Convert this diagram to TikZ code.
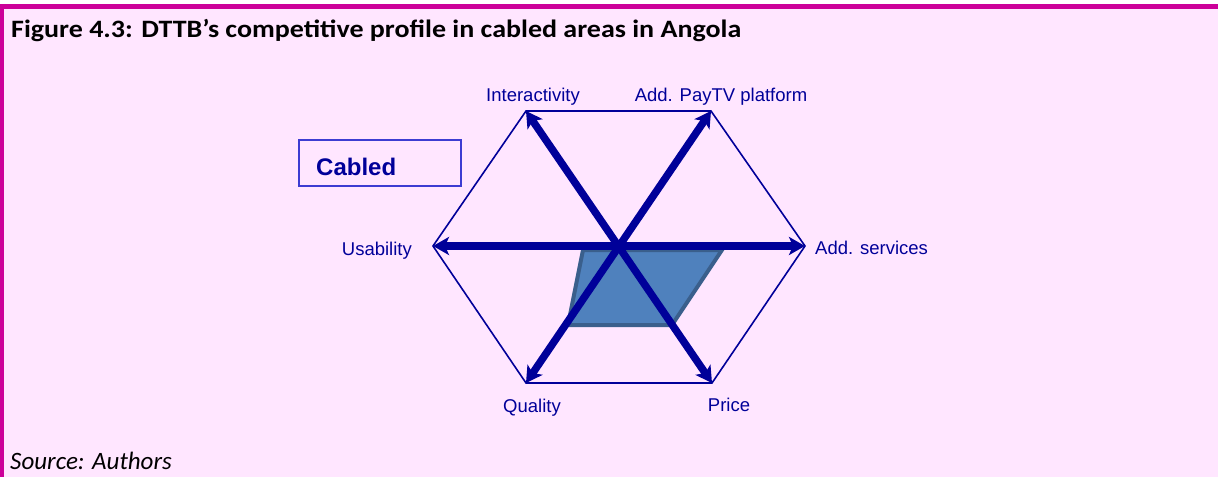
\documentclass[tikz,border=0pt]{standalone}
\usepackage{fontspec}
\setmainfont{Liberation Sans}
\newfontfamily\calibri{Carlito}
\newfontfamily\calibriwide[FakeStretch=1.12]{Carlito}
\usetikzlibrary{positioning,arrows.meta}
\definecolor{pagepink}{RGB}{255,230,255}
\definecolor{framemag}{RGB}{204,0,153}
\definecolor{axisblue}{RGB}{0,0,153}
\definecolor{boxblue}{RGB}{60,60,210}
\definecolor{areafill}{RGB}{79,129,189}
\definecolor{areaedge}{RGB}{58,95,140}

\begin{document}
\begin{tikzpicture}[x=1pt,y=-1pt,
  lbl/.style={text=axisblue,font=\fontsize{18.5}{22}\selectfont,inner sep=0pt},
  spoke/.style={{Stealth[length=16pt,width=18pt,inset=4pt]}-{Stealth[length=16pt,width=18pt,inset=4pt]},axisblue,line width=7.5pt},
  rim/.style={axisblue,line width=1.6pt,line join=miter}]
\useasboundingbox (0,0) rectangle (1218,477);
% page and frame
\fill[white] (0,0) rectangle (1218,477);
\fill[pagepink] (0,4) rectangle (1218,477);
\fill[framemag] (0,4) rectangle (1218,9);
\fill[framemag] (0,4) rectangle (4,477);
\node[anchor=base west,inner sep=0pt,font=\calibriwide\bfseries\fontsize{25}{29}\selectfont] (title) at (11,37) {Figure 4.3: DTTB’s competitive profile in cabled areas in Angola};
\node[anchor=base west,inner sep=0pt,font=\calibri\itshape\fontsize{25}{29}\selectfont] (source) at (10,469) {Source: Authors};

% hexagon corners
\coordinate (c) at (619,246);
\coordinate (u) at (433,246);
\coordinate (s) at (805,246);
\coordinate (i) at (526,111);
\coordinate (p) at (711,111);
\coordinate (q) at (526,383);
\coordinate (r) at (712,383);

% profile area
\filldraw[fill=areafill,draw=areaedge,line width=4pt,line join=miter]
  (583,250) -- (722,250) -- (672,325) -- (568,325) -- cycle;

\draw[rim] (u) -- (i) -- (p) -- (s) -- (r) -- (q) -- cycle;
\draw[spoke] (u) -- (s);
\draw[spoke] (i) -- (r);
\draw[spoke] (p) -- (q);

\node[lbl,anchor=base] (linter) at (533,101) {Interactivity};
\node[lbl,anchor=base] (lpay) at (721,101) {Add. PayTV platform};
\node[lbl,anchor=base east] (luse) at (412,255) {Usability};
\node[lbl,anchor=base west] (ladd) at (815,254) {Add. services};
\node[lbl,anchor=base] (lqual) at (532,412) {Quality};
\node[lbl,anchor=base] (lprice) at (729,411) {Price};

\draw[boxblue,line width=1.4pt] (299,140) rectangle (461,186);
\node[lbl,anchor=base west,font=\bfseries\fontsize{24}{28}\selectfont] (cabled) at (316,175) {Cabled};
\end{tikzpicture}
\end{document}
